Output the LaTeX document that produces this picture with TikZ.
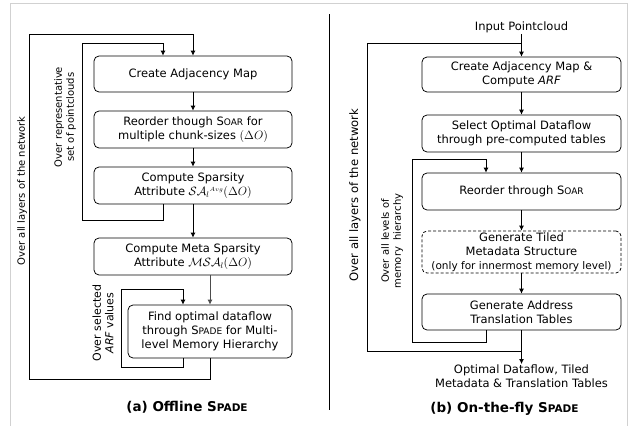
\documentclass[tikz,border=0pt]{standalone}
\usepackage[no-math]{fontspec}
\setmainfont{DejaVu Sans}
\usepackage{tikz}
\usetikzlibrary{arrows.meta,positioning,calc}

\newcommand{\soar}{S{\fontsize{9}{9}\selectfont OAR}}
\newcommand{\spade}[1][9]{S{\fontsize{#1}{#1}\selectfont PADE}}

\begin{document}
\begin{tikzpicture}[x=1pt, y=-1pt,
    block/.style={rectangle, draw, line width=0.75pt, rounded corners=5pt, minimum width=198pt, minimum height=37pt, inner sep=1pt, align=center, font=\fontsize{11.5}{14}\selectfont},
    dashblock/.style={block, dash pattern=on 3pt off 2pt},
    looplabel/.style={rotate=90, align=center, inner sep=0pt, font=\fontsize{10}{12}\selectfont},
    plain/.style={align=center, inner sep=1pt, font=\fontsize{11.5}{14}\selectfont},
    caption/.style={inner sep=0pt, font=\fontsize{13.5}{16}\bfseries\selectfont},
    arrow/.style={-{Latex[length=5pt,width=5pt]}, line width=0.75pt},
    loopline/.style={line width=0.75pt}
]
\useasboundingbox (0,0) rectangle (641,426);
\draw[black!18, line width=0.8pt] (10,426) -- (10,3) -- (627,3) -- (627,426);
\draw[line width=0.9pt] (329,14) -- (329,410);

% (a) offline flow
\node[block, minimum height=36pt] (oa1) at (193,74) {Create Adjacency Map};
\node[block] (oa2) at (193,129.5) {Reorder though \soar{} for\\multiple chunk-sizes $(\Delta O)$};
\node[block] (oa3) at (193,185.5) {Compute Sparsity\\Attribute $\mathcal{SA}_l{}^{\scriptscriptstyle Avg}(\Delta O)$};
\node[block] (oa4) at (193,256.5) {Compute Meta Sparsity\\Attribute $\mathcal{MSA}_l(\Delta O)$};
\node[block, minimum width=164pt, minimum height=53pt] (oa5) at (210,331.5) {Find optimal dataflow\\through \spade{} for Multi-\\level Memory Hierarchy};
\foreach \a/\b in {oa1/oa2,oa2/oa3,oa3/oa4}{\draw[arrow] (\a) -- (\b);}
\draw[arrow, black!70] (oa4.south -| oa5.north) -- (oa5.north);

\coordinate (rpb) at (82,220);
\coordinate (rpt) at (163,43);
\draw[arrow] (oa3.south -| rpt) |- (rpb) |- (rpt) -- (oa1.north -| rpt);
\coordinate (afb) at (121,367);
\coordinate (aft) at (183,289);
\draw[arrow] (oa5.south -| aft) |- (afb) |- (aft) -- (oa5.north -| aft);
\coordinate (alb) at (29,379);
\coordinate (alt) at (193,34);
\draw[arrow] (oa5.south) |- (alb) |- (alt) -- (oa1.north);

\node[looplabel] (lyra) at (22,191) {Over all layers of the network};
\node[looplabel] (repa) at (65,117) {Over representative\\set of pointclouds};
\node[looplabel, font=\fontsize{11}{12.5}\selectfont] (arfa) at (103,323) {Over selected\\\textit{ARF} values};
\node[caption] (capa) at (187,407) {(a) Offline \spade[10.5]};

% (b) on-the-fly flow
\node[plain] (inp) at (521.5,27) {Input Pointcloud};
\node[block, minimum width=199pt, minimum height=35pt] (ob1) at (521.5,74.5) {Create Adjacency Map \&\\Compute \textit{ARF}};
\node[block, minimum width=199pt] (ob2) at (521.5,133.5) {Select Optimal Dataflow\\through pre-computed tables};
\node[block, minimum width=199pt] (ob3) at (521.5,191.5) {Reorder through \soar};
\node[dashblock, minimum width=199pt, minimum height=42pt] (ob4) at (521.5,252) {Generate Tiled\\Metadata Structure\\{\fontsize{10.5}{13}\selectfont(only for innermost memory level)}};
\node[block, minimum width=199pt, minimum height=36pt] (ob5) at (521.5,312) {Generate Address\\Translation Tables};
\node[plain, anchor=north] (outp) at (521.5,364) {Optimal Dataflow, Tiled\\Metadata \& Translation Tables};
\foreach \a/\b in {inp/ob1,ob1/ob2,ob2/ob3,ob3/ob4,ob4/ob5,ob5/outp}{\draw[arrow] (\a) -- (\b);}

\coordinate (lvb) at (412,342);
\coordinate (lvt) at (486,159);
\draw[arrow] (ob5.south -| lvt) |- (lvb) |- (lvt) -- (ob3.north -| lvt);
\coordinate (lyb) at (367,351);
\coordinate (lyt) at (521.5,43);
\draw[loopline] (ob5.south |- lyb) -- (lyb) |- (lyt);

\node[looplabel, font=\fontsize{11.6}{14}\selectfont] (lyrb) at (355,195) {Over all layers of the network};
\node[looplabel] (lvlb) at (392,241) {Over all levels of\\memory\ \ hierarchy};
\node[caption] (capb) at (504.5,409) {(b) On-the-fly \spade[10.5]};
\end{tikzpicture}
\end{document}
